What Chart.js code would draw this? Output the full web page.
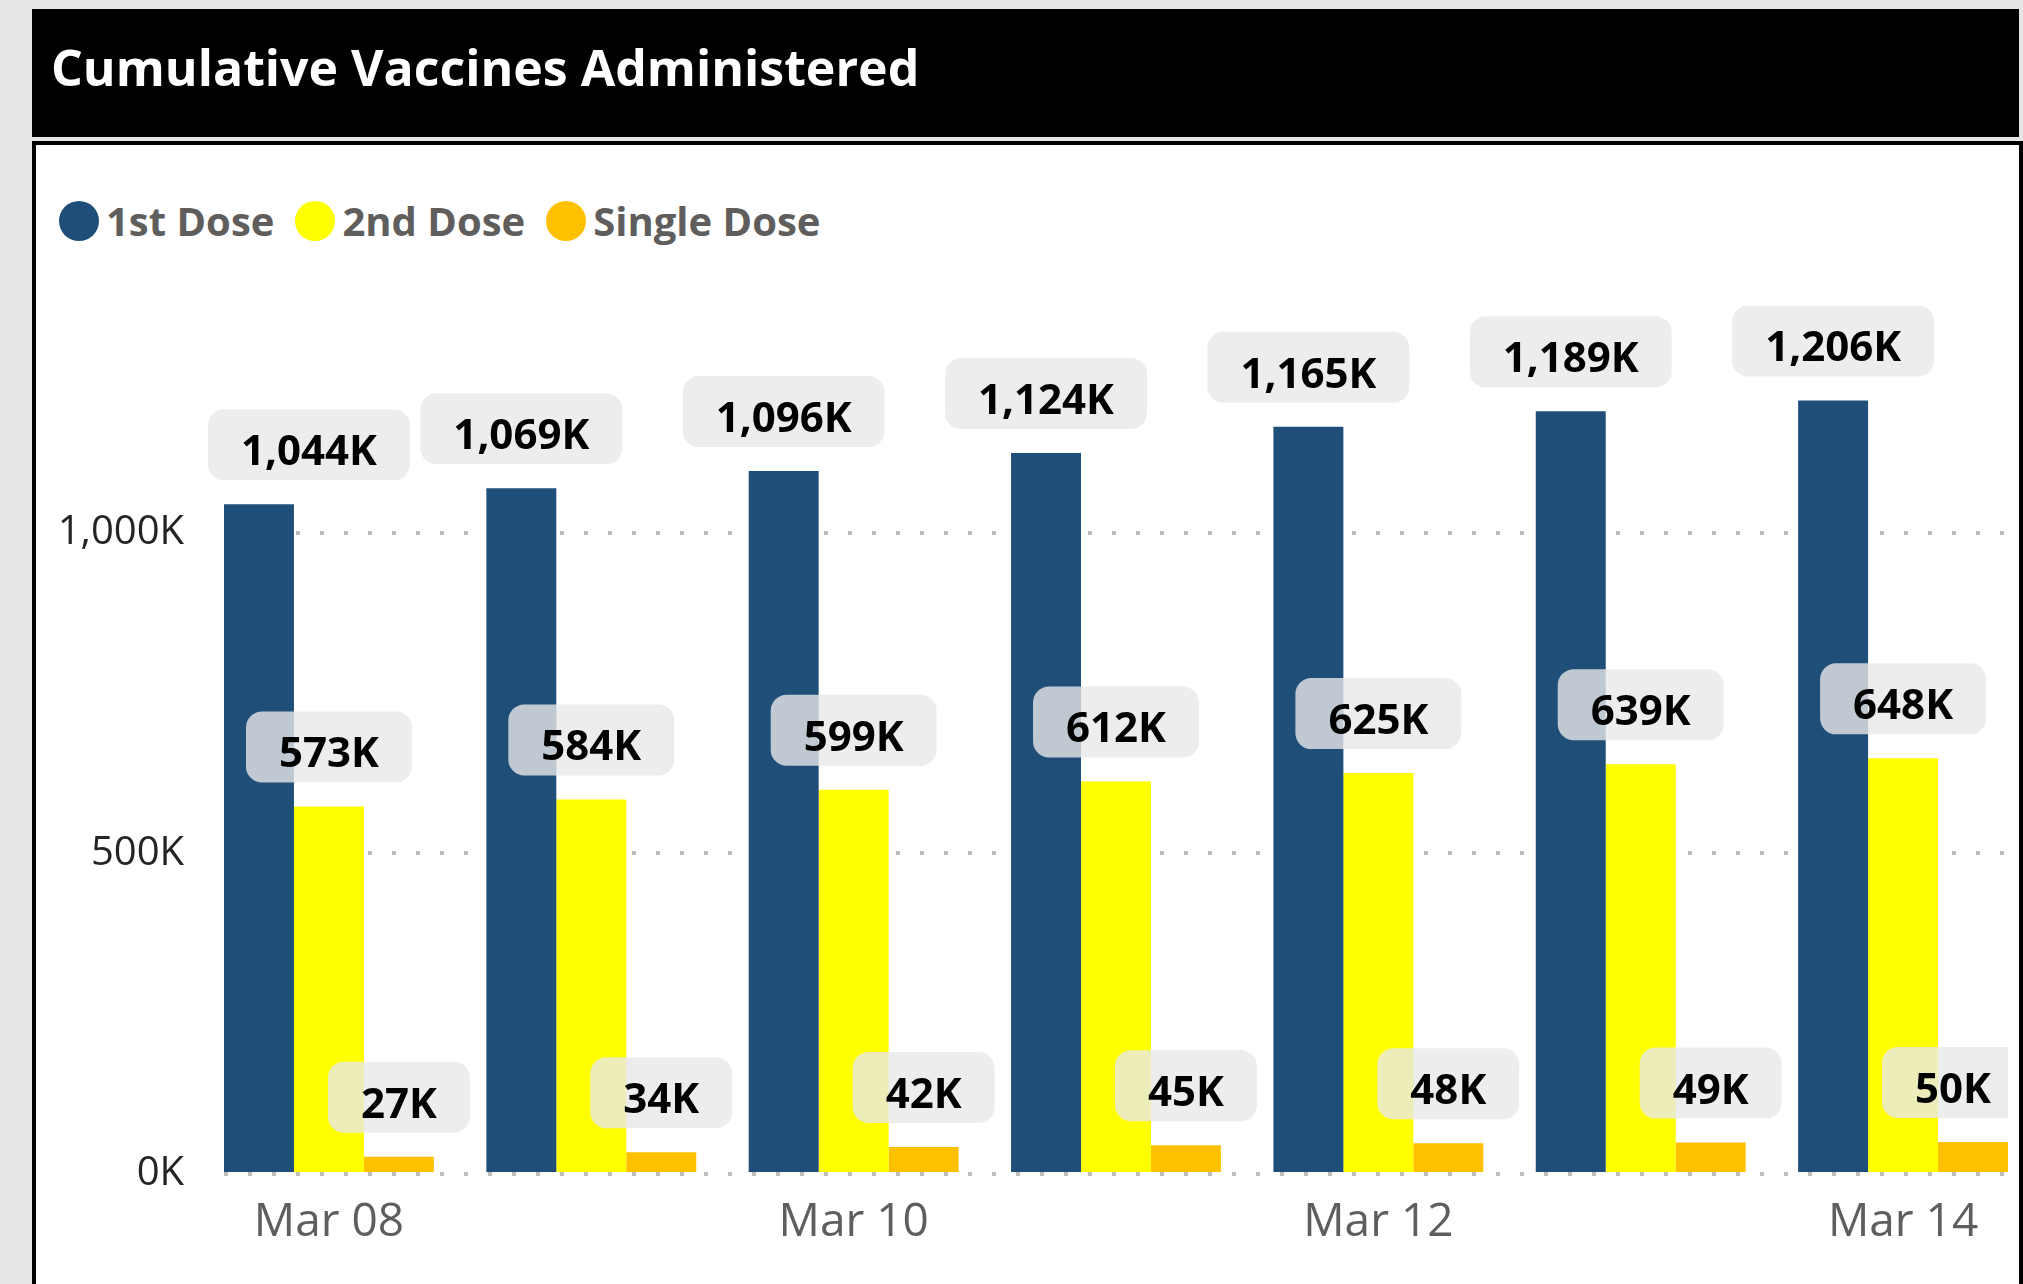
<!DOCTYPE html>
<html lang="en">
<head>
<meta charset="UTF-8">
<title>Cumulative Vaccines Administered</title>
<script src="https://cdn.jsdelivr.net/npm/chart.js@4.4.0/dist/chart.umd.min.js"></script>
<style>
  html, body { margin: 0; padding: 0; width: 2023px; height: 1284px; overflow: hidden; background: #e6e6e6; font-family: "Open Sans", sans-serif; }
  #header { position: absolute; left: 32px; top: 9px; width: 1987px; height: 128px; background: #000; }
  #header h1 { position: absolute; left: 19px; top: 33px; margin: 0; color: #fff; font-size: 50px; line-height: 50px; font-weight: 700; }
  #panel { position: absolute; left: 32px; top: 141px; width: 1991px; height: 1200px; box-sizing: border-box; border: 4px solid #000; background: #fff; }
  #legend { position: absolute; left: 59px; top: 201px; height: 40px; display: flex; align-items: center; }
  .item { display: flex; align-items: center; margin-right: 21px; }
  .dot { width: 40px; height: 40px; border-radius: 50%; margin-right: 7px; }
  .item span { font-size: 40px; line-height: 40px; font-weight: 700; color: #605e5c; }
  #chartBox { position: absolute; left: 0; top: 0; width: 2023px; height: 1284px; }
</style>
</head>
<body>
  <div id="header"><h1>Cumulative Vaccines Administered</h1></div>
  <div id="panel"></div>
  <div id="legend"></div>
  <div id="chartBox"><canvas id="vaxChart"></canvas></div>

<script>
// data (values in thousands)
const dates = ["Mar 08", "Mar 09", "Mar 10", "Mar 11", "Mar 12", "Mar 13", "Mar 14"];
const firstDose = [1044, 1069, 1096, 1124, 1165, 1189, 1206];
const secondDose = [573, 584, 599, 612, 625, 639, 648];
const singleDose = [27, 34, 42, 45, 48, 49, 50];
const seriesNames = ["1st Dose", "2nd Dose", "Single Dose"];
const seriesColors = ["#1F4E79", "#FFFF00", "#FFC000"];
const yTicks = [0, 500, 1000];
const xTicks = [0, 2, 4, 6];

// legend
const legend = document.getElementById("legend");
seriesNames.forEach((name, i) => {
  const item = document.createElement("div");
  item.className = "item";
  item.innerHTML = '<div class="dot" style="background:' + seriesColors[i] + '"></div><span>' + name + '</span>';
  legend.appendChild(item);
});

// grey rounded value boxes above each bar
const valueBoxes = {
  id: "valueBoxes",
  afterDatasetsDraw(chart) {
    const { ctx, chartArea } = chart;
    ctx.save();
    ctx.beginPath();
    ctx.rect(0, 0, chartArea.right, chart.height);
    ctx.clip();
    ctx.font = 'bold 42px "Open Sans"';
    ctx.textAlign = "center";
    chart.data.datasets.forEach((ds, i) => {
      chart.getDatasetMeta(i).data.forEach((bar, j) => {
        const text = ds.data[j].y.toLocaleString("en-US") + "K";
        const w = ctx.measureText(text).width + 66;
        const h = 71;
        let cx = bar.x;
        cx = Math.max(cx, chartArea.left - 16 + w / 2);
        cx = Math.min(cx, chartArea.right + 16 - w / 2);
        const top = bar.y - 24 - h;
        ctx.fillStyle = "rgba(233,233,233,0.8)";
        ctx.beginPath();
        ctx.roundRect(cx - w / 2, top, w, h, 16);
        ctx.fill();
        ctx.fillStyle = "#000";
        ctx.fillText(text, cx, top + 56);
      });
    });
    ctx.restore();
  }
};

const seriesData = [firstDose, secondDose, singleDose];

new Chart(document.getElementById("vaxChart"), {
  type: "bar",
  data: {
    datasets: seriesData.map((arr, i) => ({
      label: seriesNames[i],
      data: arr.map((v, j) => ({ x: j, y: v })),
      backgroundColor: seriesColors[i],
      categoryPercentage: 0.8,
      barPercentage: 1.0
    }))
  },
  options: {
    responsive: true,
    maintainAspectRatio: false,
    animation: false,
    layout: { padding: { top: 276, right: 15, left: 0, bottom: 0 } },
    plugins: {
      legend: { display: false },
      tooltip: { enabled: false }
    },
    scales: {
      x: {
        type: "linear",
        offset: false,
        min: -0.4,
        max: 6.4,
        afterBuildTicks: (scale) => { scale.ticks = xTicks.map(v => ({ value: v })); },
        afterFit: (scale) => { scale.height = 110; },
        grid: { display: false, drawTicks: false },
        border: { display: false },
        ticks: {
          padding: 21,
          color: "#605e5c",
          font: { family: "Open Sans", size: 46 },
          callback: (v) => dates[v]
        }
      },
      y: {
        min: 0,
        max: 1400,
        afterBuildTicks: (scale) => { scale.ticks = yTicks.map(v => ({ value: v })); },
        afterFit: (scale) => { scale.width = 224; },
        grid: { color: "#bdbdbd", lineWidth: 4, drawTicks: false },
        border: { display: false, dash: [4, 20] },
        ticks: {
          padding: 40,
          color: "#252423",
          font: { family: "Open Sans", size: 40 },
          callback: (v) => v.toLocaleString("en-US") + "K"
        }
      }
    }
  },
  plugins: [valueBoxes]
});
</script>
</body>
</html>
